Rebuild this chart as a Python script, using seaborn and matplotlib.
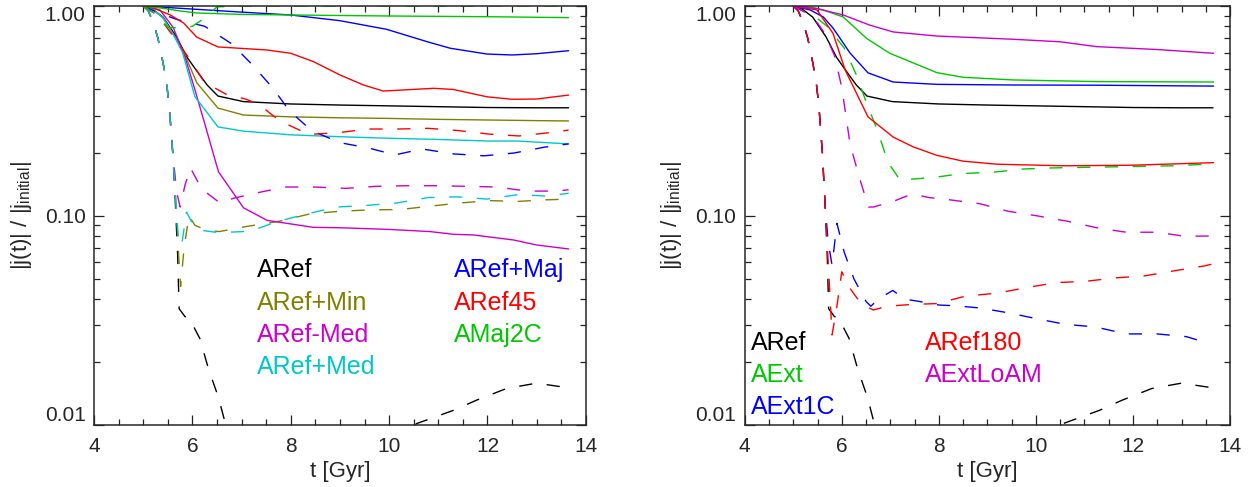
import numpy as np
import matplotlib
matplotlib.use('Agg')
import matplotlib.pyplot as plt
from matplotlib.ticker import LogLocator, NullFormatter, MultipleLocator
import seaborn as sns

# ---- ARef (both panels) ----
aref_t = [5.0, 5.2, 5.4, 5.68, 5.89, 6.09, 6.3, 6.52, 7.04, 8.0, 9.0, 10.0, 11.0, 12.0, 13.0, 13.65]
aref_v = [1.0, 0.96, 0.886, 0.71, 0.57, 0.49, 0.42, 0.372, 0.35, 0.341, 0.337, 0.334, 0.331, 0.328, 0.327, 0.327]
aref_dash_t = [5.0, 5.1, 5.2, 5.3, 5.4, 5.47, 5.53, 5.6, 5.65, 5.7, 5.73, 5.85, 5.92, 6.15, 6.33, 6.53, 6.67,
               7.0, 8.0, 9.0, 10.0, 10.56, 11.31, 11.78, 12.39, 13.0, 13.65]
aref_dash_v = [1.0, 0.95, 0.84, 0.70, 0.54, 0.44, 0.33, 0.2, 0.12, 0.065, 0.036, 0.033, 0.033, 0.026, 0.0185,
               0.0136, 0.0102, 0.0075, 0.0055, 0.0055, 0.0078, 0.0102, 0.0118, 0.0132, 0.015, 0.0159, 0.0151]

# ---- left panel ----
min_t = [5.0, 5.2, 5.4, 5.6, 5.8, 6.09, 6.52, 7.04, 8, 9, 10, 11, 12, 13, 13.65]
min_v = [1.0, 0.96, 0.88, 0.74, 0.62, 0.43, 0.326, 0.302, 0.296, 0.293, 0.291, 0.288, 0.286, 0.284, 0.283]
min_dash_t = [5.0, 5.1, 5.2, 5.3, 5.4, 5.47, 5.53, 5.6, 5.66, 5.72, 5.76, 5.83, 5.93, 6.05, 6.3, 6.55, 7.07,
              7.76, 8.39, 9.0, 9.61, 10.22, 10.83, 11.44, 12.05, 12.63, 13.19, 13.65]
min_dash_v = [1.0, 0.95, 0.84, 0.70, 0.54, 0.44, 0.33, 0.2, 0.12, 0.065, 0.046, 0.07, 0.10, 0.09, 0.085, 0.084,
              0.0886, 0.094, 0.102, 0.105, 0.1066, 0.107, 0.111, 0.115, 0.118, 0.117, 0.119, 0.12]

mmed_t = [5.0, 5.34, 5.61, 5.85, 6.05, 6.26, 6.53, 7.04, 7.52, 8.46, 9.0, 10.0, 10.83, 11.31, 11.7, 12.53, 13.0, 13.65]
mmed_v = [1.0, 0.957, 0.79, 0.57, 0.40, 0.27, 0.162, 0.109, 0.095, 0.088, 0.0876, 0.086, 0.084, 0.0815, 0.081,
          0.0766, 0.0725, 0.0694]
mmed_dash_t = [5.0, 5.1, 5.2, 5.3, 5.4, 5.47, 5.53, 5.6, 5.68, 5.75, 5.85, 5.96, 6.19, 6.56, 6.83, 7.28, 7.88,
               8.49, 9.12, 9.73, 10.35, 10.96, 11.59, 12.2, 12.8, 13.4, 13.65]
mmed_dash_v = [1.0, 0.95, 0.84, 0.70, 0.54, 0.44, 0.33, 0.2, 0.13, 0.11, 0.14, 0.169, 0.134, 0.115, 0.121, 0.128,
               0.137, 0.137, 0.135, 0.138, 0.139, 0.139, 0.138, 0.137, 0.131, 0.131, 0.133]

pmed_t = [5.0, 5.2, 5.4, 5.6, 5.8, 6.05, 6.52, 7.04, 8, 9, 10, 11, 12, 12.6, 13.65]
pmed_v = [1.0, 0.96, 0.88, 0.74, 0.6, 0.37, 0.265, 0.253, 0.243, 0.238, 0.234, 0.231, 0.227, 0.227, 0.22]
pmed_dash_t = [5.0, 5.1, 5.2, 5.3, 5.4, 5.47, 5.53, 5.6, 5.66, 5.72, 5.78, 5.88, 6.0, 6.2, 6.55, 7.17, 7.74,
               8.33, 8.94, 9.55, 10.16, 10.79, 11.38, 11.99, 12.62, 13.23, 13.65]
pmed_dash_v = [1.0, 0.95, 0.84, 0.70, 0.54, 0.44, 0.33, 0.2, 0.12, 0.075, 0.072, 0.104, 0.092, 0.085, 0.083,
               0.0843, 0.094, 0.102, 0.11, 0.112, 0.115, 0.122, 0.123, 0.12, 0.126, 0.124, 0.128]

maj_t = [5.0, 6.09, 7.0, 8.0, 9.0, 9.95, 10.77, 11.24, 11.99, 12.5, 13.0, 13.65]
maj_v = [1.0, 0.964, 0.935, 0.906, 0.851, 0.774, 0.676, 0.629, 0.590, 0.584, 0.592, 0.612]
maj_dash_t = [5.0, 5.3, 5.7, 6.25, 6.8, 7.2, 7.62, 7.99, 8.43, 9.0, 9.59, 10.12, 10.67, 11.32, 11.93, 12.54,
              13.15, 13.65]
maj_dash_v = [1.0, 0.93, 0.86, 0.80, 0.66, 0.53, 0.41, 0.313, 0.254, 0.223, 0.210, 0.195, 0.208, 0.197, 0.193,
              0.199, 0.212, 0.22]

r45_t = [5.0, 5.2, 5.55, 5.82, 6.09, 6.52, 7.51, 8.0, 8.46, 9.0, 9.48, 9.88, 10.9, 11.3, 11.99, 12.5, 13.0, 13.65]
r45_v = [1.0, 0.98, 0.906, 0.83, 0.71, 0.638, 0.617, 0.595, 0.543, 0.469, 0.42, 0.393, 0.405, 0.40, 0.369,
         0.359, 0.36, 0.376]
r45_dash_t = [5.0, 5.3, 5.55, 5.9, 6.24, 6.75, 7.05, 7.35, 7.64, 7.82, 8.37, 8.98, 9.57, 10.18, 10.79, 11.38,
              12.03, 12.64, 13.27, 13.65]
r45_dash_v = [1.0, 0.9, 0.75, 0.577, 0.434, 0.372, 0.362, 0.34, 0.30, 0.28, 0.244, 0.249, 0.259, 0.259, 0.261,
              0.255, 0.245, 0.240, 0.249, 0.256]

maj2c_t = [5.0, 5.4, 5.75, 6.09, 7.0, 8.0, 10.0, 12.0, 13.65]
maj2c_v = [1.0, 0.975, 0.947, 0.926, 0.912, 0.906, 0.896, 0.889, 0.88]
maj2c_dash_t = [5.0, 5.3, 5.5, 5.75, 6.0, 6.2, 6.5, 7.0, 8.0, 10.0, 12.0, 13.65]
maj2c_dash_v = [1.0, 0.9, 0.79, 0.785, 0.80, 0.86, 0.99, 1.0, 1.0, 1.0, 1.0, 1.0]

# ---- right panel ----
ext_t = [5.0, 5.4, 5.62, 6.03, 6.51, 6.99, 7.96, 8.5, 9.53, 11.25, 13.66]
ext_v = [1.0, 0.985, 0.957, 0.886, 0.701, 0.595, 0.481, 0.457, 0.444, 0.436, 0.434]
ext_dash_t = [5.0, 5.5, 5.7, 6.05, 6.3, 6.5, 6.75, 6.95, 7.2, 7.88, 8.5, 9.1, 9.74, 10.35, 10.97, 11.6, 12.2,
              12.84, 13.5, 13.66]
ext_dash_v = [1.0, 0.87, 0.80, 0.63, 0.47, 0.35, 0.25, 0.18, 0.148, 0.152, 0.159, 0.161, 0.167, 0.169, 0.170,
              0.171, 0.172, 0.173, 0.176, 0.177]

ext1c_t = [5.0, 5.35, 5.62, 5.82, 6.17, 6.54, 7.06, 7.96, 9.5, 11.25, 13.66]
ext1c_v = [1.0, 0.957, 0.886, 0.785, 0.597, 0.48, 0.434, 0.423, 0.42, 0.419, 0.415]
ext1c_dash_t = [5.0, 5.1, 5.2, 5.3, 5.4, 5.47, 5.53, 5.6, 5.66, 5.72, 5.8, 5.9, 6.05, 6.25, 6.5, 6.6, 6.75,
                7.05, 7.3, 7.6, 8.0, 8.33, 8.85, 9.47, 10.03, 10.62, 11.22, 11.86, 12.5, 13.1, 13.59]
ext1c_dash_v = [1.0, 0.95, 0.84, 0.70, 0.54, 0.44, 0.33, 0.2, 0.11, 0.075, 0.058, 0.092, 0.067, 0.05, 0.039,
                0.037, 0.04, 0.044, 0.040, 0.039, 0.0375, 0.0372, 0.0363, 0.0343, 0.0322, 0.0303, 0.0295,
                0.0273, 0.0273, 0.0265, 0.0245]

r180_t = [5.0, 5.49, 5.82, 6.07, 6.54, 7.06, 7.47, 7.96, 8.5, 9.2, 10.57, 11.94, 13.66]
r180_v = [1.0, 0.957, 0.74, 0.495, 0.296, 0.237, 0.213, 0.194, 0.182, 0.176, 0.173, 0.174, 0.179]
r180_dash_t = [5.0, 5.1, 5.2, 5.3, 5.4, 5.47, 5.53, 5.6, 5.66, 5.72, 5.8, 5.9, 6.0, 6.17, 6.4, 6.65, 6.93, 7.41,
               7.96, 8.56, 9.2, 9.8, 10.44, 11.01, 11.63, 12.23, 12.83, 13.47, 13.66]
r180_dash_v = [1.0, 0.95, 0.84, 0.70, 0.54, 0.44, 0.33, 0.2, 0.11, 0.06, 0.027, 0.037, 0.054, 0.045, 0.038,
               0.0355, 0.037, 0.0377, 0.0381, 0.0414, 0.0427, 0.0454, 0.048, 0.0486, 0.0505, 0.0516, 0.0545,
               0.0576, 0.059]

loam_t = [5.0, 5.5, 6.03, 6.58, 7.06, 7.96, 9.53, 10.5, 11.25, 12.5, 13.66]
loam_v = [1.0, 0.97, 0.906, 0.81, 0.752, 0.719, 0.694, 0.675, 0.640, 0.62, 0.595]
loam_dash_t = [5.0, 5.3, 5.5, 5.65, 5.85, 6.0, 6.17, 6.37, 6.55, 6.65, 7.06, 7.45, 7.8, 8.23, 8.85, 9.43, 10.04,
               10.66, 11.27, 11.86, 12.48, 13.07, 13.6]
loam_dash_v = [1.0, 0.92, 0.83, 0.74, 0.58, 0.41, 0.22, 0.15, 0.11, 0.11, 0.117, 0.127, 0.122, 0.119, 0.114,
               0.105, 0.0997, 0.094, 0.0874, 0.0834, 0.0834, 0.0798, 0.080]

black, olive, magenta, cyan = 'black', '#808000', '#cc00cc', '#00c8c8'
blue, red, green = '#0000ff', '#ff0000', '#00c800'

left_runs = [
    ('ARef', aref_t, aref_v, aref_dash_t, aref_dash_v, black),
    ('ARef+Min', min_t, min_v, min_dash_t, min_dash_v, olive),
    ('ARef-Med', mmed_t, mmed_v, mmed_dash_t, mmed_dash_v, magenta),
    ('ARef+Med', pmed_t, pmed_v, pmed_dash_t, pmed_dash_v, cyan),
    ('ARef+Maj', maj_t, maj_v, maj_dash_t, maj_dash_v, blue),
    ('ARef45', r45_t, r45_v, r45_dash_t, r45_dash_v, red),
    ('AMaj2C', maj2c_t, maj2c_v, maj2c_dash_t, maj2c_dash_v, green),
]
right_runs = [
    ('ARef', aref_t, aref_v, aref_dash_t, aref_dash_v, black),
    ('AExt', ext_t, ext_v, ext_dash_t, ext_dash_v, green),
    ('AExt1C', ext1c_t, ext1c_v, ext1c_dash_t, ext1c_dash_v, blue),
    ('ARef180', r180_t, r180_v, r180_dash_t, r180_dash_v, red),
    ('AExtLoAM', loam_t, loam_v, loam_dash_t, loam_dash_v, magenta),
]

sns.set_style('ticks')
plt.rcParams['font.family'] = ['Liberation Sans', 'DejaVu Sans']
plt.rcParams['mathtext.default'] = 'regular'

DASH = (0, (9.5, 10.5))


def draw_panel(ax, runs, label_pos, ylab_x):
    for name, t, v, td, vd, c in runs:
        sns.lineplot(x=np.array(td), y=np.array(vd), ax=ax, color=c, lw=1.0,
                     linestyle=DASH, sort=False, estimator=None)
        sns.lineplot(x=np.array(t), y=np.array(v), ax=ax, color=c, lw=1.0,
                     sort=False, estimator=None)
    ax.set_yscale('log')
    ax.set_xlim(4, 14)
    ax.set_ylim(0.01, 1.0)
    ax.set_xticks([4, 6, 8, 10, 12, 14])
    ax.xaxis.set_minor_locator(MultipleLocator(0.5))
    ax.set_yticks([0.01, 0.1, 1.0], labels=['0.01', '0.10', '1.00'])
    ax.yaxis.set_minor_locator(LogLocator(base=10, subs=np.arange(2, 10)))
    ax.yaxis.set_minor_formatter(NullFormatter())
    ax.tick_params(which='both', direction='in', top=True, right=True, width=0.9,
                   labelsize=15, color='#222222')
    ax.tick_params(axis='x', pad=8)
    ax.tick_params(axis='y', pad=6)
    ax.tick_params(which='major', length=7)
    ax.tick_params(which='minor', length=4.5)
    ticks = ax.yaxis.get_major_ticks()
    ticks[0].label1.set_va('bottom')
    ticks[-1].label1.set_va('top')
    for sp in ax.spines.values():
        sp.set_linewidth(1.1)
        sp.set_visible(True)
    ax.set_xlabel('t [Gyr]', fontsize=16)
    ax.xaxis.set_label_coords(0.5, -0.085)
    ax.set_ylabel('|j(t)| / |j$_{\\mathregular{initial}}$|', fontsize=16)
    ax.yaxis.set_label_coords(ylab_x, 0.5)
    for (name, *_, c), (px, py) in zip(runs, label_pos):
        ax.text(px, py, name, color=c, fontsize=18, transform=ax.transAxes,
                ha='left', va='center')


fig = plt.figure(figsize=(12.59, 4.87), dpi=100)
ax1 = fig.add_axes([0.0747, 0.1265, 0.3906, 0.8612])
ax2 = fig.add_axes([0.5915, 0.1265, 0.3855, 0.8612])

rows = [0.3705, 0.291, 0.2155, 0.14]
left_pos = [(0.331, rows[0]), (0.331, rows[1]), (0.331, rows[2]), (0.331, rows[3]),
            (0.731, rows[0]), (0.731, rows[1]), (0.731, rows[2])]
rrows = [0.196, 0.120, 0.0446]
right_pos = [(0.012, rrows[0]), (0.012, rrows[1]), (0.012, rrows[2]),
             (0.372, rrows[0]), (0.372, rrows[1])]

draw_panel(ax1, left_runs, left_pos, -0.122)
draw_panel(ax2, right_runs, right_pos, -0.125)

fig.savefig('out.png', dpi=100)
